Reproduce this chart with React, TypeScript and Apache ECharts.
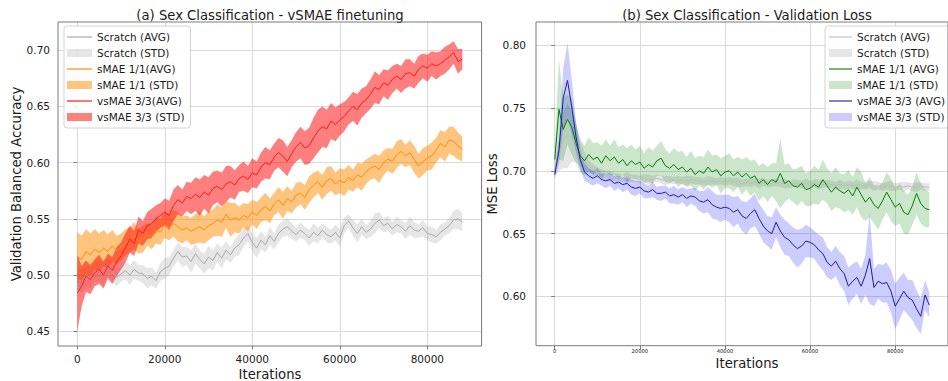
import React, { useEffect, useRef } from "react";
import * as echarts from "echarts";

const ITERATIONS = [
  0, 1000, 2000, 3000, 4000, 5000, 6000, 7000, 8000, 9000,
  10000, 11000, 12000, 13000, 14000, 15000, 16000, 17000, 18000, 19000,
  20000, 21000, 22000, 23000, 24000, 25000, 26000, 27000, 28000, 29000,
  30000, 31000, 32000, 33000, 34000, 35000, 36000, 37000, 38000, 39000,
  40000, 41000, 42000, 43000, 44000, 45000, 46000, 47000, 48000, 49000,
  50000, 51000, 52000, 53000, 54000, 55000, 56000, 57000, 58000, 59000,
  60000, 61000, 62000, 63000, 64000, 65000, 66000, 67000, 68000, 69000,
  70000, 71000, 72000, 73000, 74000, 75000, 76000, 77000, 78000, 79000,
  80000, 81000, 82000, 83000, 84000, 85000, 86000, 87000, 88000,
];

// (a) Validation balanced accuracy
const ACC_SCRATCH_AVG = [
  0.496, 0.494, 0.499, 0.497, 0.502, 0.504, 0.5, 0.507, 0.503, 0.498,
  0.501, 0.504, 0.5, 0.505, 0.502, 0.501, 0.497, 0.499, 0.495, 0.503,
  0.506, 0.508, 0.515, 0.521, 0.516, 0.517, 0.512, 0.519, 0.514, 0.51,
  0.516, 0.513, 0.52, 0.515, 0.522, 0.518, 0.524, 0.527, 0.533, 0.537,
  0.529, 0.524, 0.531, 0.527, 0.535, 0.53, 0.537, 0.541, 0.543, 0.539,
  0.536, 0.54, 0.537, 0.533, 0.538, 0.535, 0.54, 0.536, 0.534, 0.538,
  0.533, 0.544, 0.548, 0.542, 0.537, 0.543, 0.538, 0.541, 0.546, 0.549,
  0.544, 0.546, 0.541, 0.545, 0.543, 0.539, 0.544, 0.54, 0.539, 0.542,
  0.537, 0.536, 0.534, 0.538, 0.541, 0.544, 0.549, 0.55, 0.547,
];
const ACC_SCRATCH_STD = [
  0.009, 0.01, 0.01, 0.009, 0.008, 0.009, 0.01, 0.008, 0.009, 0.008,
  0.007, 0.008, 0.009, 0.008, 0.007, 0.008, 0.009, 0.008, 0.007, 0.008,
  0.009, 0.008, 0.007, 0.008, 0.009, 0.008, 0.01, 0.009, 0.008, 0.009,
  0.01, 0.009, 0.008, 0.009, 0.008, 0.007, 0.008, 0.009, 0.008, 0.007,
  0.008, 0.009, 0.008, 0.007, 0.008, 0.007, 0.008, 0.007, 0.008, 0.007,
  0.006, 0.007, 0.006, 0.007, 0.008, 0.007, 0.006, 0.007, 0.006, 0.007,
  0.008, 0.007, 0.006, 0.007, 0.008, 0.007, 0.006, 0.007, 0.009, 0.007,
  0.006, 0.007, 0.006, 0.007, 0.006, 0.007, 0.008, 0.007, 0.006, 0.007,
  0.006, 0.007, 0.006, 0.007, 0.006, 0.007, 0.008, 0.009, 0.008,
];
const ACC_SMAE_AVG = [
  0.516, 0.514, 0.521, 0.518, 0.523, 0.52, 0.524, 0.521, 0.526, 0.522,
  0.525, 0.529, 0.531, 0.535, 0.53, 0.532, 0.536, 0.534, 0.54, 0.538,
  0.545, 0.542, 0.546, 0.543, 0.54, 0.542, 0.539, 0.541, 0.543, 0.54,
  0.544, 0.546, 0.549, 0.547, 0.554, 0.549, 0.551, 0.549, 0.553, 0.551,
  0.556, 0.553, 0.558, 0.561, 0.557, 0.563, 0.567, 0.562, 0.568, 0.565,
  0.571, 0.573, 0.569, 0.576, 0.58, 0.583, 0.578, 0.584, 0.586, 0.581,
  0.584, 0.582, 0.587, 0.584, 0.589, 0.587, 0.592, 0.595, 0.597, 0.594,
  0.6, 0.603, 0.601, 0.607, 0.61, 0.606, 0.609, 0.603, 0.597, 0.601,
  0.604, 0.606, 0.611, 0.617, 0.614, 0.62, 0.619, 0.615, 0.612,
];
const ACC_SMAE_STD = [
  0.022, 0.021, 0.02, 0.019, 0.018, 0.017, 0.016, 0.015, 0.014, 0.013,
  0.012, 0.012, 0.011, 0.012, 0.011, 0.012, 0.01, 0.011, 0.012, 0.011,
  0.012, 0.011, 0.012, 0.013, 0.012, 0.011, 0.012, 0.013, 0.014, 0.012,
  0.013, 0.012, 0.014, 0.013, 0.012, 0.015, 0.013, 0.012, 0.011, 0.012,
  0.011, 0.012, 0.011, 0.012, 0.011, 0.01, 0.011, 0.012, 0.011, 0.01,
  0.011, 0.01, 0.011, 0.012, 0.011, 0.01, 0.011, 0.012, 0.011, 0.01,
  0.011, 0.012, 0.011, 0.01, 0.011, 0.012, 0.011, 0.01, 0.011, 0.012,
  0.011, 0.01, 0.011, 0.012, 0.011, 0.01, 0.011, 0.012, 0.011, 0.012,
  0.011, 0.012, 0.011, 0.012, 0.013, 0.012, 0.013, 0.012, 0.011,
];
const ACC_VSMAE_AVG = [
  0.484, 0.49, 0.499, 0.496, 0.502, 0.505, 0.5, 0.508, 0.504, 0.512,
  0.517, 0.524, 0.532, 0.528, 0.54, 0.537, 0.544, 0.546, 0.55, 0.553,
  0.556, 0.553, 0.562, 0.567, 0.564, 0.57, 0.568, 0.572, 0.569, 0.574,
  0.571, 0.577, 0.579, 0.576, 0.581, 0.583, 0.58, 0.586, 0.588, 0.585,
  0.591, 0.589, 0.596, 0.6, 0.598, 0.605, 0.609, 0.606, 0.601, 0.608,
  0.614, 0.618, 0.613, 0.615, 0.622, 0.628, 0.632, 0.63, 0.637, 0.634,
  0.638, 0.641, 0.646, 0.65, 0.647, 0.653, 0.656, 0.661, 0.667, 0.665,
  0.671, 0.669, 0.674, 0.677, 0.674, 0.679, 0.68, 0.677, 0.683, 0.686,
  0.684, 0.688, 0.686, 0.688, 0.691, 0.694, 0.698, 0.69, 0.692,
];
const ACC_VSMAE_STD = [
  0.034, 0.018, 0.014, 0.013, 0.012, 0.013, 0.012, 0.011, 0.012, 0.013,
  0.012, 0.013, 0.012, 0.011, 0.012, 0.011, 0.012, 0.013, 0.012, 0.011,
  0.012, 0.013, 0.014, 0.013, 0.012, 0.013, 0.014, 0.015, 0.016, 0.015,
  0.016, 0.015, 0.014, 0.015, 0.016, 0.014, 0.013, 0.012, 0.013, 0.012,
  0.013, 0.012, 0.013, 0.014, 0.013, 0.012, 0.013, 0.014, 0.013, 0.012,
  0.013, 0.014, 0.015, 0.016, 0.018, 0.019, 0.018, 0.017, 0.016, 0.015,
  0.014, 0.013, 0.012, 0.013, 0.014, 0.013, 0.012, 0.013, 0.014, 0.013,
  0.012, 0.013, 0.012, 0.011, 0.012, 0.013, 0.012, 0.011, 0.012, 0.011,
  0.012, 0.011, 0.012, 0.011, 0.012, 0.011, 0.01, 0.011, 0.009,
];

// (b) Validation MSE loss
const LOSS_SCRATCH_AVG = [
  0.7, 0.712, 0.724, 0.728, 0.727, 0.722, 0.714, 0.708, 0.704, 0.701,
  0.699, 0.698, 0.697, 0.696, 0.695, 0.695, 0.694, 0.695, 0.694, 0.694,
  0.693, 0.694, 0.693, 0.693, 0.694, 0.693, 0.692, 0.693, 0.692, 0.693,
  0.692, 0.692, 0.693, 0.692, 0.692, 0.691, 0.692, 0.692, 0.691, 0.692,
  0.691, 0.692, 0.691, 0.691, 0.69, 0.691, 0.69, 0.691, 0.69, 0.691,
  0.69, 0.69, 0.691, 0.69, 0.69, 0.689, 0.69, 0.69, 0.689, 0.69,
  0.689, 0.69, 0.689, 0.689, 0.69, 0.689, 0.688, 0.689, 0.688, 0.689,
  0.688, 0.689, 0.688, 0.688, 0.689, 0.688, 0.688, 0.687, 0.688, 0.688,
  0.687, 0.688, 0.687, 0.688, 0.687, 0.687, 0.688, 0.687, 0.687,
];
const LOSS_SCRATCH_STD = [
  0.004, 0.012, 0.022, 0.026, 0.02, 0.015, 0.01, 0.007, 0.005, 0.004,
  0.004, 0.003, 0.003, 0.004, 0.003, 0.003, 0.003, 0.004, 0.003, 0.003,
  0.003, 0.003, 0.004, 0.003, 0.003, 0.003, 0.004, 0.003, 0.003, 0.003,
  0.003, 0.004, 0.003, 0.003, 0.003, 0.003, 0.004, 0.003, 0.003, 0.003,
  0.003, 0.003, 0.003, 0.004, 0.003, 0.003, 0.003, 0.003, 0.004, 0.003,
  0.003, 0.003, 0.003, 0.003, 0.004, 0.003, 0.003, 0.003, 0.003, 0.004,
  0.003, 0.003, 0.004, 0.003, 0.003, 0.003, 0.003, 0.004, 0.003, 0.003,
  0.003, 0.004, 0.003, 0.003, 0.003, 0.004, 0.003, 0.003, 0.003, 0.004,
  0.003, 0.003, 0.004, 0.003, 0.003, 0.004, 0.003, 0.003, 0.003,
];
const LOSS_SMAE_AVG = [
  0.709, 0.749, 0.733, 0.741, 0.735, 0.722, 0.712, 0.708, 0.713, 0.709,
  0.711, 0.706, 0.712, 0.708, 0.711, 0.706, 0.709, 0.704, 0.708, 0.705,
  0.707, 0.702, 0.705, 0.703, 0.708, 0.71, 0.704, 0.702, 0.705, 0.701,
  0.703, 0.699, 0.702, 0.697, 0.7, 0.698, 0.703, 0.699, 0.701, 0.696,
  0.699, 0.7, 0.696, 0.699, 0.695, 0.698, 0.694, 0.696, 0.69, 0.693,
  0.689, 0.693, 0.691, 0.698, 0.69, 0.692, 0.688, 0.687, 0.69, 0.685,
  0.686, 0.689, 0.687, 0.693, 0.688, 0.683, 0.687, 0.684, 0.682, 0.685,
  0.68, 0.687, 0.681, 0.675, 0.679, 0.673, 0.67, 0.676, 0.683, 0.677,
  0.671, 0.674, 0.667, 0.665, 0.672, 0.682, 0.674, 0.67, 0.669,
];
const LOSS_SMAE_STD = [
  0.01, 0.04, 0.025, 0.02, 0.022, 0.016, 0.013, 0.012, 0.014, 0.013,
  0.012, 0.014, 0.013, 0.012, 0.014, 0.013, 0.012, 0.014, 0.013, 0.012,
  0.013, 0.012, 0.014, 0.013, 0.012, 0.014, 0.013, 0.012, 0.013, 0.014,
  0.013, 0.012, 0.014, 0.013, 0.012, 0.013, 0.014, 0.013, 0.012, 0.014,
  0.013, 0.014, 0.013, 0.012, 0.014, 0.013, 0.014, 0.013, 0.014, 0.013,
  0.014, 0.013, 0.015, 0.028, 0.015, 0.014, 0.013, 0.015, 0.014, 0.013,
  0.014, 0.015, 0.014, 0.016, 0.014, 0.015, 0.016, 0.014, 0.015, 0.016,
  0.015, 0.016, 0.018, 0.015, 0.016, 0.015, 0.017, 0.015, 0.016, 0.017,
  0.015, 0.016, 0.017, 0.016, 0.015, 0.017, 0.016, 0.015, 0.014,
];
const LOSS_VSMAE_AVG = [
  0.697, 0.716, 0.758, 0.772, 0.751, 0.727, 0.709, 0.699, 0.696, 0.694,
  0.696, 0.693, 0.692, 0.693, 0.69, 0.691, 0.689, 0.69, 0.687, 0.686,
  0.687, 0.684, 0.683, 0.685, 0.682, 0.682, 0.683, 0.68, 0.681, 0.679,
  0.681, 0.678, 0.68, 0.679, 0.676, 0.675, 0.677, 0.673, 0.671, 0.67,
  0.671, 0.67, 0.667, 0.669, 0.664, 0.662, 0.666, 0.669, 0.662, 0.656,
  0.652, 0.65, 0.659, 0.652, 0.647, 0.645, 0.641, 0.638, 0.64, 0.644,
  0.643, 0.641, 0.637, 0.634, 0.627, 0.624, 0.628, 0.622, 0.618, 0.608,
  0.612, 0.615, 0.608, 0.617, 0.63, 0.607, 0.612, 0.61, 0.611, 0.604,
  0.592, 0.598, 0.604, 0.599, 0.597, 0.59, 0.584, 0.601, 0.593,
];
const LOSS_VSMAE_STD = [
  0.004, 0.01, 0.024, 0.03, 0.022, 0.012, 0.008, 0.007, 0.006, 0.006,
  0.006, 0.005, 0.006, 0.005, 0.006, 0.005, 0.006, 0.005, 0.006, 0.006,
  0.005, 0.006, 0.005, 0.006, 0.005, 0.006, 0.005, 0.006, 0.007, 0.006,
  0.006, 0.007, 0.006, 0.007, 0.008, 0.009, 0.01, 0.011, 0.01, 0.011,
  0.01, 0.011, 0.012, 0.011, 0.012, 0.013, 0.012, 0.013, 0.012, 0.013,
  0.012, 0.013, 0.012, 0.013, 0.014, 0.013, 0.014, 0.015, 0.014, 0.013,
  0.012, 0.011, 0.012, 0.013, 0.012, 0.011, 0.012, 0.013, 0.014, 0.015,
  0.014, 0.013, 0.014, 0.016, 0.036, 0.015, 0.014, 0.015, 0.016, 0.017,
  0.018, 0.017, 0.015, 0.014, 0.016, 0.015, 0.014, 0.012, 0.01,
];

const X_TICKS = [0, 20000, 40000, 60000, 80000];
const ACC_TICKS = [0.45, 0.5, 0.55, 0.6, 0.65, 0.7];
const LOSS_TICKS = [0.6, 0.65, 0.7, 0.75, 0.8];

const FONT = "DejaVu Sans";
const TEXT = "#1a1a1a";
const SPINE = "#7a7a7a";
const GRIDLINE = "#dadada";
const LINE_ICON = "path://M0,0 L25,0 L25,1.2 L0,1.2 Z";

const avgData = (avg: number[]) => ITERATIONS.map((x, i) => [x, avg[i]]);

function bandSeries(name: string, avg: number[], std: number[], color: string, idx: number) {
  const data = ITERATIONS.map((x, i) => [x, avg[i] - std[i], avg[i] + std[i]]);
  return {
    type: "custom",
    name,
    xAxisIndex: idx,
    yAxisIndex: idx,
    data,
    silent: true,
    z: 1,
    encode: { x: 0, y: [1, 2] },
    itemStyle: { color },
    renderItem: (params: any, api: any) => {
      if (params.dataIndex !== 0) return null;
      const upper = data.map((d) => api.coord([d[0], d[2]]));
      const lower = data.map((d) => api.coord([d[0], d[1]])).reverse();
      return {
        type: "polygon",
        silent: true,
        shape: { points: upper.concat(lower) },
        style: { fill: color, stroke: "none" },
      };
    },
  };
}

function lineSeries(name: string, avg: number[], color: string, idx: number, width = 1) {
  return {
    type: "line",
    name,
    xAxisIndex: idx,
    yAxisIndex: idx,
    data: avgData(avg),
    symbol: "none",
    showSymbol: false,
    silent: true,
    color,
    lineStyle: { color, width },
    z: 3,
  };
}

function xAxis(idx: number, min: number, max: number, fontSize: number, margin: number) {
  return {
    type: "value",
    gridIndex: idx,
    min,
    max,
    axisLine: { show: false },
    axisTick: { show: true, length: 3.5, customValues: X_TICKS, lineStyle: { color: SPINE } },
    axisLabel: {
      customValues: X_TICKS,
      fontSize,
      fontFamily: FONT,
      color: TEXT,
      margin,
      formatter: (v: number) => String(v),
    },
    splitLine: { show: true, lineStyle: { color: GRIDLINE, width: 1 } },
  };
}

function yAxis(idx: number, min: number, max: number, ticks: number[], margin: number) {
  return {
    type: "value",
    gridIndex: idx,
    min,
    max,
    axisLine: { show: false },
    axisTick: { show: true, length: 3.5, customValues: ticks, lineStyle: { color: SPINE } },
    axisLabel: {
      customValues: ticks,
      fontSize: 10.5,
      fontFamily: FONT,
      color: TEXT,
      margin,
      formatter: (v: number) => v.toFixed(2),
    },
    splitLine: { show: true, lineStyle: { color: GRIDLINE, width: 1 } },
  };
}

const C = {
  accScratchLine: "#a9a9a9",
  accScratchBand: "rgba(128,128,128,0.2)",
  smaeLine: "#ff8c00",
  smaeBand: "rgba(255,140,0,0.5)",
  vsmaeLine: "#ff1a1a",
  vsmaeBand: "rgba(255,0,0,0.5)",
  lossScratchLine: "#bdbdbd",
  lossScratchBand: "rgba(128,128,128,0.2)",
  greenLine: "#008000",
  greenBand: "rgba(0,128,0,0.2)",
  blueLine: "#1e1e9c",
  blueBand: "rgba(0,0,255,0.2)",
};

function legendCfg(left: number, padLeft: number, itemWidth: number, items: any[]) {
  return {
    orient: "vertical",
    left,
    top: 26,
    itemWidth,
    itemHeight: 8,
    itemGap: 4,
    padding: [5, 6, 5, padLeft],
    backgroundColor: "rgba(255,255,255,0.85)",
    borderColor: "#d4d4d4",
    borderWidth: 1,
    borderRadius: 3,
    selectedMode: false,
    symbolKeepAspect: true,
    textStyle: { fontSize: 10.5, fontFamily: FONT, color: TEXT, lineHeight: 12 },
    data: items,
  };
}

export default function App() {
  const ref = useRef<HTMLDivElement>(null);

  useEffect(() => {
    if (!ref.current) return;
    const chart = echarts.init(ref.current, undefined, { renderer: "svg" });

    const lineItem = (name: string, color: string) => ({
      name,
      icon: LINE_ICON,
      itemStyle: { color, borderWidth: 0 },
    });
    const rectItem = (name: string, color: string) => ({
      name,
      icon: "rect",
      itemStyle: { color, borderWidth: 0 },
    });

    const option: any = {
      animation: false,
      backgroundColor: "#ffffff",
      textStyle: { fontFamily: FONT },
      grid: [
        { left: 58, top: 22, width: 423.6, height: 324, show: true, borderColor: SPINE, borderWidth: 1, backgroundColor: "transparent", z: 5 },
        { left: 536, top: 22, width: 422.5, height: 323.7, show: true, borderColor: SPINE, borderWidth: 1, backgroundColor: "transparent", z: 5 },
      ],
      xAxis: [xAxis(0, -4400, 92400, 10.5, 7), xAxis(1, -4400, 92400, 5.25, 3)],
      yAxis: [yAxis(0, 0.4369, 0.7251, ACC_TICKS, 8), yAxis(1, 0.5606, 0.8186, LOSS_TICKS, 10)],
      legend: [
        legendCfg(64, 3, 25, [
          lineItem("Scratch (AVG)", C.accScratchLine),
          rectItem("Scratch (STD)", C.accScratchBand),
          lineItem("sMAE 1/1(AVG)", C.smaeLine),
          rectItem("sMAE 1/1 (STD)", C.smaeBand),
          lineItem("vsMAE 3/3(AVG)", C.vsmaeLine),
          rectItem("vsMAE 3/3 (STD)", C.vsmaeBand),
        ]),
        legendCfg(825, 4, 23, [
          lineItem("Scratch (AVG)", C.lossScratchLine),
          rectItem("Scratch (STD)", C.lossScratchBand),
          lineItem("sMAE 1/1 (AVG)", C.greenLine),
          rectItem("sMAE 1/1 (STD)", C.greenBand),
          lineItem("vsMAE 3/3 (AVG)", C.blueLine),
          rectItem("vsMAE 3/3 (STD)", C.blueBand),
        ]),
      ],
      graphic: [
        {
          type: "text",
          x: 270,
          y: 15,
          style: { text: "(a) Sex Classification - vSMAE finetuning", fontSize: 13.2, fontFamily: FONT, fill: TEXT, textAlign: "center", textVerticalAlign: "middle" },
        },
        {
          type: "text",
          x: 747,
          y: 15,
          style: { text: "(b) Sex Classification - Validation Loss", fontSize: 13.2, fontFamily: FONT, fill: TEXT, textAlign: "center", textVerticalAlign: "middle" },
        },
        {
          type: "text",
          x: 270,
          y: 374,
          style: { text: "Iterations", fontSize: 13.2, fontFamily: FONT, fill: TEXT, textAlign: "center", textVerticalAlign: "middle" },
        },
        {
          type: "text",
          x: 747,
          y: 363,
          style: { text: "Iterations", fontSize: 13.2, fontFamily: FONT, fill: TEXT, textAlign: "center", textVerticalAlign: "middle" },
        },
        {
          type: "text",
          x: 16,
          y: 184,
          rotation: Math.PI / 2,
          style: { text: "Validation Balanced Accuracy", fontSize: 13.2, fontFamily: FONT, fill: TEXT, textAlign: "center", textVerticalAlign: "middle" },
        },
        {
          type: "text",
          x: 492,
          y: 184,
          rotation: Math.PI / 2,
          style: { text: "MSE Loss", fontSize: 13.2, fontFamily: FONT, fill: TEXT, textAlign: "center", textVerticalAlign: "middle" },
        },
      ],
      series: [
        bandSeries("Scratch (STD)", ACC_SCRATCH_AVG, ACC_SCRATCH_STD, C.accScratchBand, 0),
        lineSeries("Scratch (AVG)", ACC_SCRATCH_AVG, C.accScratchLine, 0),
        bandSeries("sMAE 1/1 (STD)", ACC_SMAE_AVG, ACC_SMAE_STD, C.smaeBand, 0),
        lineSeries("sMAE 1/1(AVG)", ACC_SMAE_AVG, C.smaeLine, 0),
        bandSeries("vsMAE 3/3 (STD)", ACC_VSMAE_AVG, ACC_VSMAE_STD, C.vsmaeBand, 0),
        lineSeries("vsMAE 3/3(AVG)", ACC_VSMAE_AVG, C.vsmaeLine, 0),
        bandSeries("Scratch (STD)", LOSS_SCRATCH_AVG, LOSS_SCRATCH_STD, C.lossScratchBand, 1),
        lineSeries("Scratch (AVG)", LOSS_SCRATCH_AVG, C.lossScratchLine, 1),
        bandSeries("sMAE 1/1 (STD)", LOSS_SMAE_AVG, LOSS_SMAE_STD, C.greenBand, 1),
        lineSeries("sMAE 1/1 (AVG)", LOSS_SMAE_AVG, C.greenLine, 1),
        bandSeries("vsMAE 3/3 (STD)", LOSS_VSMAE_AVG, LOSS_VSMAE_STD, C.blueBand, 1),
        lineSeries("vsMAE 3/3 (AVG)", LOSS_VSMAE_AVG, C.blueLine, 1),
      ],
    };

    chart.setOption(option);
    return () => chart.dispose();
  }, []);

  return (
    <div
      ref={ref}
      style={{ position: "absolute", left: 0, top: 0, width: 948, height: 381, background: "#fff" }}
    />
  );
}
